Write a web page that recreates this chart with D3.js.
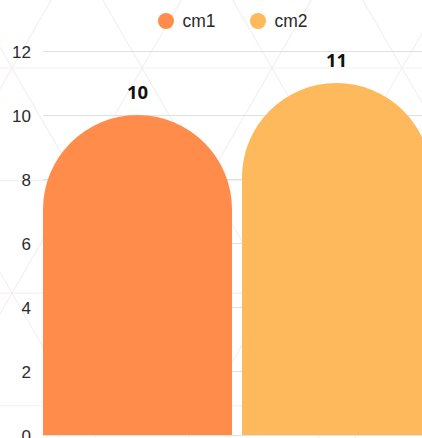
<!DOCTYPE html>
<html>
<head>
<meta charset="utf-8">
<script src="https://cdn.jsdelivr.net/npm/d3@7"></script>
<style>
  html, body { margin: 0; padding: 0; background: #fff; overflow: hidden; }
  svg { display: block; }
</style>
</head>
<body>
<div id="chart"></div>
<script>
// data
const series = ['cm1', 'cm2'];
const values = [10, 11];
const colors = ['#ff8c4a', '#fdb95b'];
const yTicks = [0, 2, 4, 6, 8, 10, 12];

const width = 422, height = 438;
const margin = { top: 51, right: -9, bottom: 3, left: 43 };

const svg = d3.select('#chart').append('svg')
    .attr('width', width)
    .attr('height', height);

// faint triangular background pattern
const bg = svg.append('g')
    .attr('stroke', '#f4f0f1')
    .attr('stroke-width', 1.2)
    .attr('fill', 'none');
const side = 130, rowH = side * Math.sqrt(3) / 2, ox = 12, oy = 68;
for (let r = -2; r < 6; r++) {
    bg.append('line')
        .attr('x1', 0).attr('x2', width)
        .attr('y1', oy + r * rowH).attr('y2', oy + r * rowH);
}
for (let k = -8; k < 10; k++) {
    const x0 = ox + k * side;
    const dx = (height + 200) / Math.tan(Math.PI / 3);
    bg.append('line')
        .attr('x1', x0 - dx * (oy + 100) / (height + 200)).attr('y1', -100)
        .attr('x2', x0 + dx * (height + 100 - oy) / (height + 200)).attr('y2', height + 100);
    bg.append('line')
        .attr('x1', x0 + dx * (oy + 100) / (height + 200)).attr('y1', -100)
        .attr('x2', x0 - dx * (height + 100 - oy) / (height + 200)).attr('y2', height + 100);
}

const x = d3.scaleBand()
    .domain(series)
    .range([margin.left, width - margin.right])
    .paddingInner(0.05)
    .paddingOuter(0);

const y = d3.scaleLinear()
    .domain([0, 12])
    .range([height - margin.bottom, margin.top]);

// grid lines
svg.append('g')
    .selectAll('line')
    .data(yTicks)
    .enter()
    .append('line')
    .attr('x1', margin.left)
    .attr('x2', width)
    .attr('y1', d => Math.round(y(d)) + 0.5)
    .attr('y2', d => Math.round(y(d)) + 0.5)
    .attr('stroke', '#e0e0e0')
    .attr('stroke-width', 1);

// y axis labels
const yAxis = svg.append('g')
    .attr('transform', `translate(${margin.left},0)`)
    .call(d3.axisLeft(y).tickValues(yTicks).tickSize(0).tickPadding(12));
yAxis.select('.domain').remove();
yAxis.selectAll('text')
    .attr('fill', '#2b2b2b')
    .attr('dy', '0.36em')
    .style('font-family', '"Liberation Sans", Arial, sans-serif')
    .style('font-size', '17px');

// bars with rounded tops
function barPath(d, i) {
    const x0 = x(series[i]);
    const w = x.bandwidth();
    const r = w / 2;
    const top = y(d);
    const bottom = y(0);
    return `M${x0},${bottom}L${x0},${top + r}A${r},${r} 0 0 1 ${x0 + w},${top + r}L${x0 + w},${bottom}Z`;
}

svg.append('g')
    .selectAll('path')
    .data(values)
    .enter()
    .append('path')
    .attr('d', barPath)
    .attr('fill', (d, i) => colors[i]);

// value labels
svg.append('g')
    .selectAll('text')
    .data(values)
    .enter()
    .append('text')
    .attr('x', (d, i) => x(series[i]) + x.bandwidth() / 2)
    .attr('y', d => y(d) - 16)
    .attr('text-anchor', 'middle')
    .attr('fill', '#111')
    .style('font-family', '"Noto Sans", "Open Sans", sans-serif')
    .style('font-weight', 'bold')
    .style('font-size', '18.5px')
    .text(d => d);

// legend
const legendX = [166, 258];
const legend = svg.append('g')
    .selectAll('g')
    .data(series)
    .enter()
    .append('g')
    .attr('transform', (d, i) => `translate(${legendX[i]},21)`);

legend.append('circle')
    .attr('r', 8)
    .attr('fill', (d, i) => colors[i]);

legend.append('text')
    .attr('x', 16.5)
    .attr('dy', '0.36em')
    .attr('fill', '#2b2b2b')
    .style('font-family', '"Liberation Sans", Arial, sans-serif')
    .style('font-size', '17.5px')
    .text(d => d);
</script>
</body>
</html>
